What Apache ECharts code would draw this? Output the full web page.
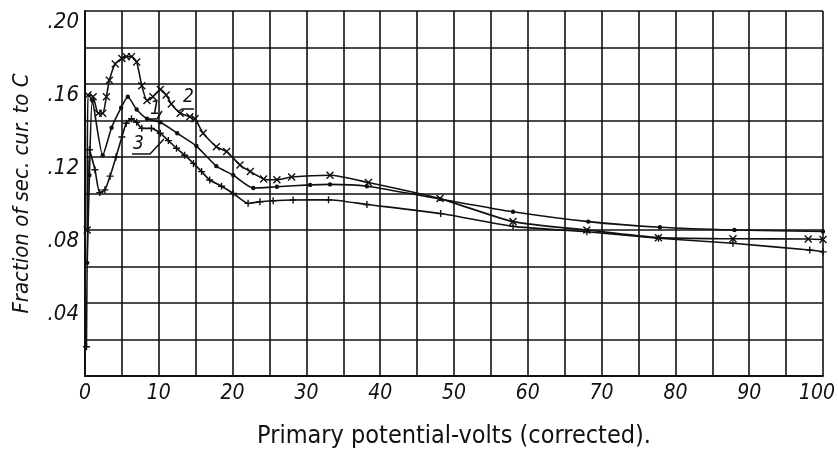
<!DOCTYPE html>
<html>
<head>
<meta charset="utf-8">
<script src="https://cdn.jsdelivr.net/npm/echarts@6/dist/echarts.min.js"></script>
<style>
  html, body { margin: 0; padding: 0; background: #fff; }
  #chart { width: 838px; height: 453px; }
</style>
</head>
<body>
<div id="chart"></div>
<script>
// curve 1 : plain line, small dots
var curve1 = [[0.3,0.062],[0.6,0.11],[1.0,0.151],[2.4,0.121],[3.6,0.136],[4.9,0.147],[5.8,0.153],
  [7.0,0.146],[8.4,0.141],[10.2,0.139],[12.5,0.133],[15.1,0.126],[17.8,0.115],[20.1,0.110],
  [22.8,0.103],[26,0.1037],[30.5,0.1047],[33.2,0.105],[38.2,0.104],[48.1,0.097],[58,0.090],
  [68.2,0.0846],[77.9,0.0815],[88,0.0800],[100,0.0792]];
// curve 2 : x marks
var curve2 = [[0.3,0.08],[0.4,0.154],[1.1,0.153],[1.8,0.144],[2.4,0.144],[2.9,0.153],[3.3,0.162],
  [4.1,0.171],[5.0,0.174],[5.6,0.175],[6.3,0.175],[7.0,0.172],[7.7,0.159],[8.4,0.151],[9.2,0.153],
  [10.2,0.157],[11.0,0.154],[11.7,0.149],[12.9,0.144],[14.2,0.142],[14.9,0.141],[16,0.133],
  [17.8,0.1256],[19.2,0.123],[21,0.1156],[22.4,0.112],[24.2,0.108],[26,0.1075],[28,0.109],
  [33.2,0.110],[38.4,0.106],[48.1,0.0972],[58,0.0846],[68,0.080],[77.7,0.0758],[87.8,0.0752],
  [98,0.0751],[100,0.0748]];
// curve 3 : + marks
var curve3 = [[0.2,0.016],[0.6,0.124],[1.35,0.113],[2.0,0.1005],[2.7,0.102],[3.4,0.1095],[4.2,0.120],
  [5.0,0.131],[5.6,0.1385],[6.3,0.141],[7.0,0.139],[7.7,0.1357],[9.0,0.1357],[10.2,0.133],
  [11.3,0.129],[12.4,0.1248],[13.5,0.121],[14.7,0.1165],[15.8,0.112],[16.9,0.1074],[18.5,0.104],
  [20.1,0.100],[22.1,0.0946],[23.7,0.0955],[25.5,0.096],[28.2,0.0964],[33,0.0966],[38.2,0.0940],
  [48.2,0.0890],[58,0.082],[68,0.0790],[77.7,0.0755],[87.8,0.0727],[98.2,0.069],[100,0.068]];

var xLabels = ['0','10','20','30','40','50','60','70','80','90','100'];
var yLabels = {'0.04':'.04','0.08':'.08','0.12':'.12','0.16':'.16','0.2':'.20'};

var FONT = 'DejaVu Sans Condensed, Liberation Sans Narrow, DejaVu Sans, sans-serif';

var myChart = echarts.init(document.getElementById('chart'));

function lineSeries(data, symbol, size) {
  return {
    type: 'line',
    data: data,
    smooth: 0.2,
    symbol: symbol,
    symbolSize: size,
    showAllSymbol: true,
    lineStyle: { color: '#111', width: 1.6 },
    itemStyle: { color: symbol === 'circle' ? '#111' : 'none', borderColor: '#111', borderWidth: 1.4 },
    emphasis: { disabled: true },
    z: 3
  };
}

var option = {
  backgroundColor: '#fff',
  animation: false,
  grid: { left: 85, right: 15, top: 11, bottom: 77, outerBoundsMode: 'none', containLabel: false },
  xAxis: {
    type: 'value',
    min: 0, max: 100, interval: 5,
    name: 'Primary potential-volts (corrected).',
    nameLocation: 'middle',
    nameGap: 48,
    nameTextStyle: { fontFamily: FONT, fontSize: 25, color: '#111' },
    axisLine: { show: true, lineStyle: { color: '#111', width: 2 } },
    axisTick: { show: false },
    axisLabel: {
      fontFamily: FONT, fontStyle: 'italic', fontSize: 21, color: '#111', margin: 7,
      formatter: function (v) {
        if (v === 100) return '{r|100}';
        return v % 10 === 0 ? xLabels[v / 10] : '';
      },
      rich: { r: { fontFamily: FONT, fontStyle: 'italic', fontSize: 21, color: '#111', padding: [0, 12, 0, 0] } }
    },
    splitLine: { show: true, lineStyle: { color: '#111', width: 1.6 } }
  },
  yAxis: {
    type: 'value',
    min: 0, max: 0.2, interval: 0.02,
    name: 'Fraction of sec. cur. to C',
    nameLocation: 'middle',
    nameGap: 52,
    nameRotate: 90,
    nameTextStyle: { fontFamily: FONT, fontStyle: 'italic', fontSize: 22, color: '#111' },
    axisLine: { show: true, lineStyle: { color: '#111', width: 2 } },
    axisTick: { show: false },
    axisLabel: {
      fontFamily: FONT, fontStyle: 'italic', fontSize: 22, color: '#111', margin: 6,
      verticalAlign: 'top',
      formatter: function (v) { return yLabels[String(+v.toFixed(2))] || ''; }
    },
    splitLine: { show: true, lineStyle: { color: '#111', width: 1.6 } }
  },
  graphic: [
    { type: 'text', left: 183, top: 88, z: 10,
      style: { text: '2', fontFamily: FONT, fontStyle: 'italic', fontSize: 19, fill: '#111' } },
    { type: 'polyline', z: 10, shape: { points: [[178, 112], [182, 109], [194, 109]] },
      style: { stroke: '#111', lineWidth: 1.5, fill: null } },
    { type: 'text', left: 150, top: 100, z: 10,
      style: { text: '1', fontFamily: FONT, fontStyle: 'italic', fontSize: 19, fill: '#111' } },
    { type: 'polyline', z: 10, shape: { points: [[146, 119], [157, 119], [162, 111]] },
      style: { stroke: '#111', lineWidth: 1.5, fill: null } },
    { type: 'text', left: 133, top: 135, z: 10,
      style: { text: '3', fontFamily: FONT, fontStyle: 'italic', fontSize: 19, fill: '#111' } },
    { type: 'polyline', z: 10, shape: { points: [[132, 154], [150, 154], [164, 139]] },
      style: { stroke: '#111', lineWidth: 1.5, fill: null } }
  ],
  series: [
    lineSeries(curve1, 'circle', 3),
    lineSeries(curve2, 'path://M0,0L10,10M10,0L0,10', 7),
    lineSeries(curve3, 'path://M5,0L5,10M0,5L10,5', 7)
  ]
};
myChart.setOption(option);
</script>
</body>
</html>
